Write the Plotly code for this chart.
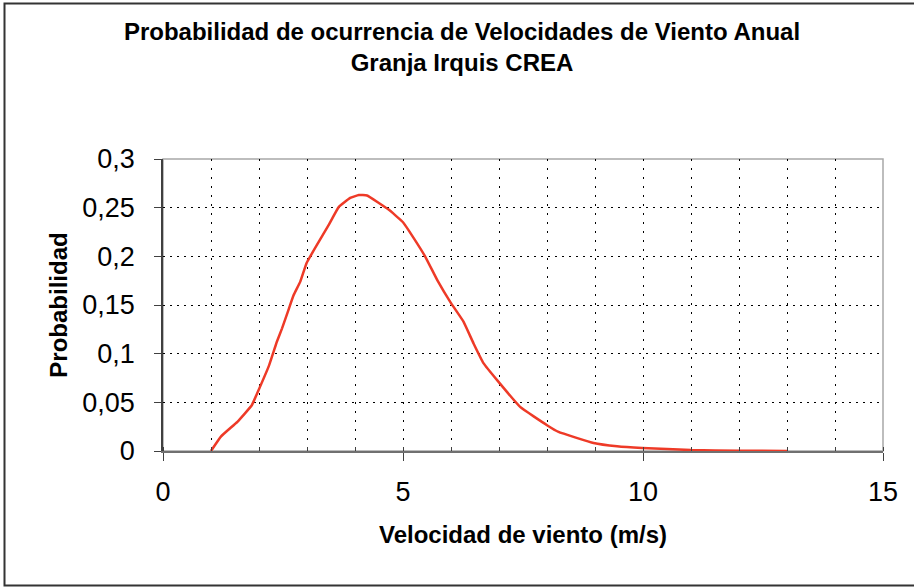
import plotly.graph_objects as go

velocidad = [1.0, 1.21, 1.55, 1.85, 1.99, 2.21, 2.37, 2.48, 2.60, 2.72, 2.86, 2.99, 3.21, 3.45,
             3.66, 3.90, 4.08, 4.25, 4.70, 5.0, 5.22, 5.46, 5.72, 6.0, 6.26, 6.47, 6.68, 6.96,
             7.44, 8.0, 8.24, 8.97, 9.46, 9.98, 10.5, 11.0, 12.0, 13.0]
probabilidad = [0.0, 0.015, 0.030, 0.047, 0.0625, 0.088, 0.112, 0.126, 0.143, 0.160, 0.174, 0.193,
                0.212, 0.232, 0.2505, 0.260, 0.263, 0.2625, 0.248, 0.235, 0.219, 0.200, 0.175,
                0.152, 0.133, 0.1105, 0.090, 0.0728, 0.0453, 0.0265, 0.0196, 0.0082, 0.0048,
                0.003, 0.002, 0.001, 0.0003, 0.0]

titulo = "Probabilidad de ocurrencia de Velocidades de Viento Anual<br>Granja Irquis CREA"
titulo_x = "Velocidad de viento (m/s)"
titulo_y = "Probabilidad"

FONT = "Liberation Sans, Arial, sans-serif"
W, H = 914, 587
L, R, T, B = 163, 31, 159, 136
pw, ph = W - L - R, H - T - B

def px_x(p):
    return (p - L) / pw

def px_y(p):
    return (H - B - p) / ph

fig = go.Figure()
fig.add_trace(go.Scatter(
    x=velocidad, y=probabilidad, mode="lines",
    line=dict(color="#ee3a27", width=2.5, shape="spline", smoothing=0.3),
    showlegend=False, hoverinfo="x+y",
))

fig.update_layout(
    width=W, height=H,
    margin=dict(l=L, r=R, t=T, b=B, pad=0),
    paper_bgcolor="white", plot_bgcolor="white",
    separators=",.",
    font=dict(family=FONT, color="black"),
    title=dict(
        text="<b>" + titulo + "</b>",
        x=462 / W, xanchor="center", xref="container",
        y=1 - 40 / H, yanchor="top", yref="container",
        font=dict(family=FONT, size=24, color="black"),
    ),
    xaxis=dict(
        range=[0, 15], dtick=5, tick0=0,
        showline=True, linecolor="#707070", linewidth=1.5,
        ticks="outside", ticklen=8, tickwidth=1.2, tickcolor="#404040",
        tickfont=dict(family=FONT, size=27, color="black"),
        ticklabelstandoff=8,
        showgrid=True, gridcolor="black", gridwidth=1, griddash="2px,7px",
        minor=dict(dtick=1, showgrid=True, gridcolor="black", gridwidth=1,
                   griddash="2px,7px", ticks="inside", ticklen=4, tickcolor="#404040"),
        zeroline=False,
        title=dict(text="<b>" + titulo_x + "</b>", standoff=20,
                   font=dict(family=FONT, size=24, color="black")),
    ),
    yaxis=dict(
        range=[0, 0.3], dtick=0.05, tick0=0,
        showline=True, linecolor="#404040", linewidth=1.5,
        ticks="outside", ticklen=7, tickwidth=1.2, tickcolor="#404040",
        tickfont=dict(family=FONT, size=27, color="black"),
        ticklabelstandoff=14,
        showgrid=True, gridcolor="black", gridwidth=1, griddash="2px,5px",
        zeroline=False,
        title=dict(text="<b>" + titulo_y + "</b>", standoff=8,
                   font=dict(family=FONT, size=24, color="black")),
    ),
    shapes=[
        dict(type="rect", xref="paper", yref="paper", x0=0, x1=1, y0=0, y1=1,
             line=dict(color="#a8a8a8", width=1.5), layer="below"),
        dict(type="rect", xref="paper", yref="paper",
             x0=px_x(4.5), x1=px_x(920), y0=px_y(585.5), y1=px_y(3.5),
             line=dict(color="#333333", width=2), layer="above"),
    ],
)

fig.write_html("out.html", config={"displayModeBar": False},
               post_script="document.body.style.margin='0';")
